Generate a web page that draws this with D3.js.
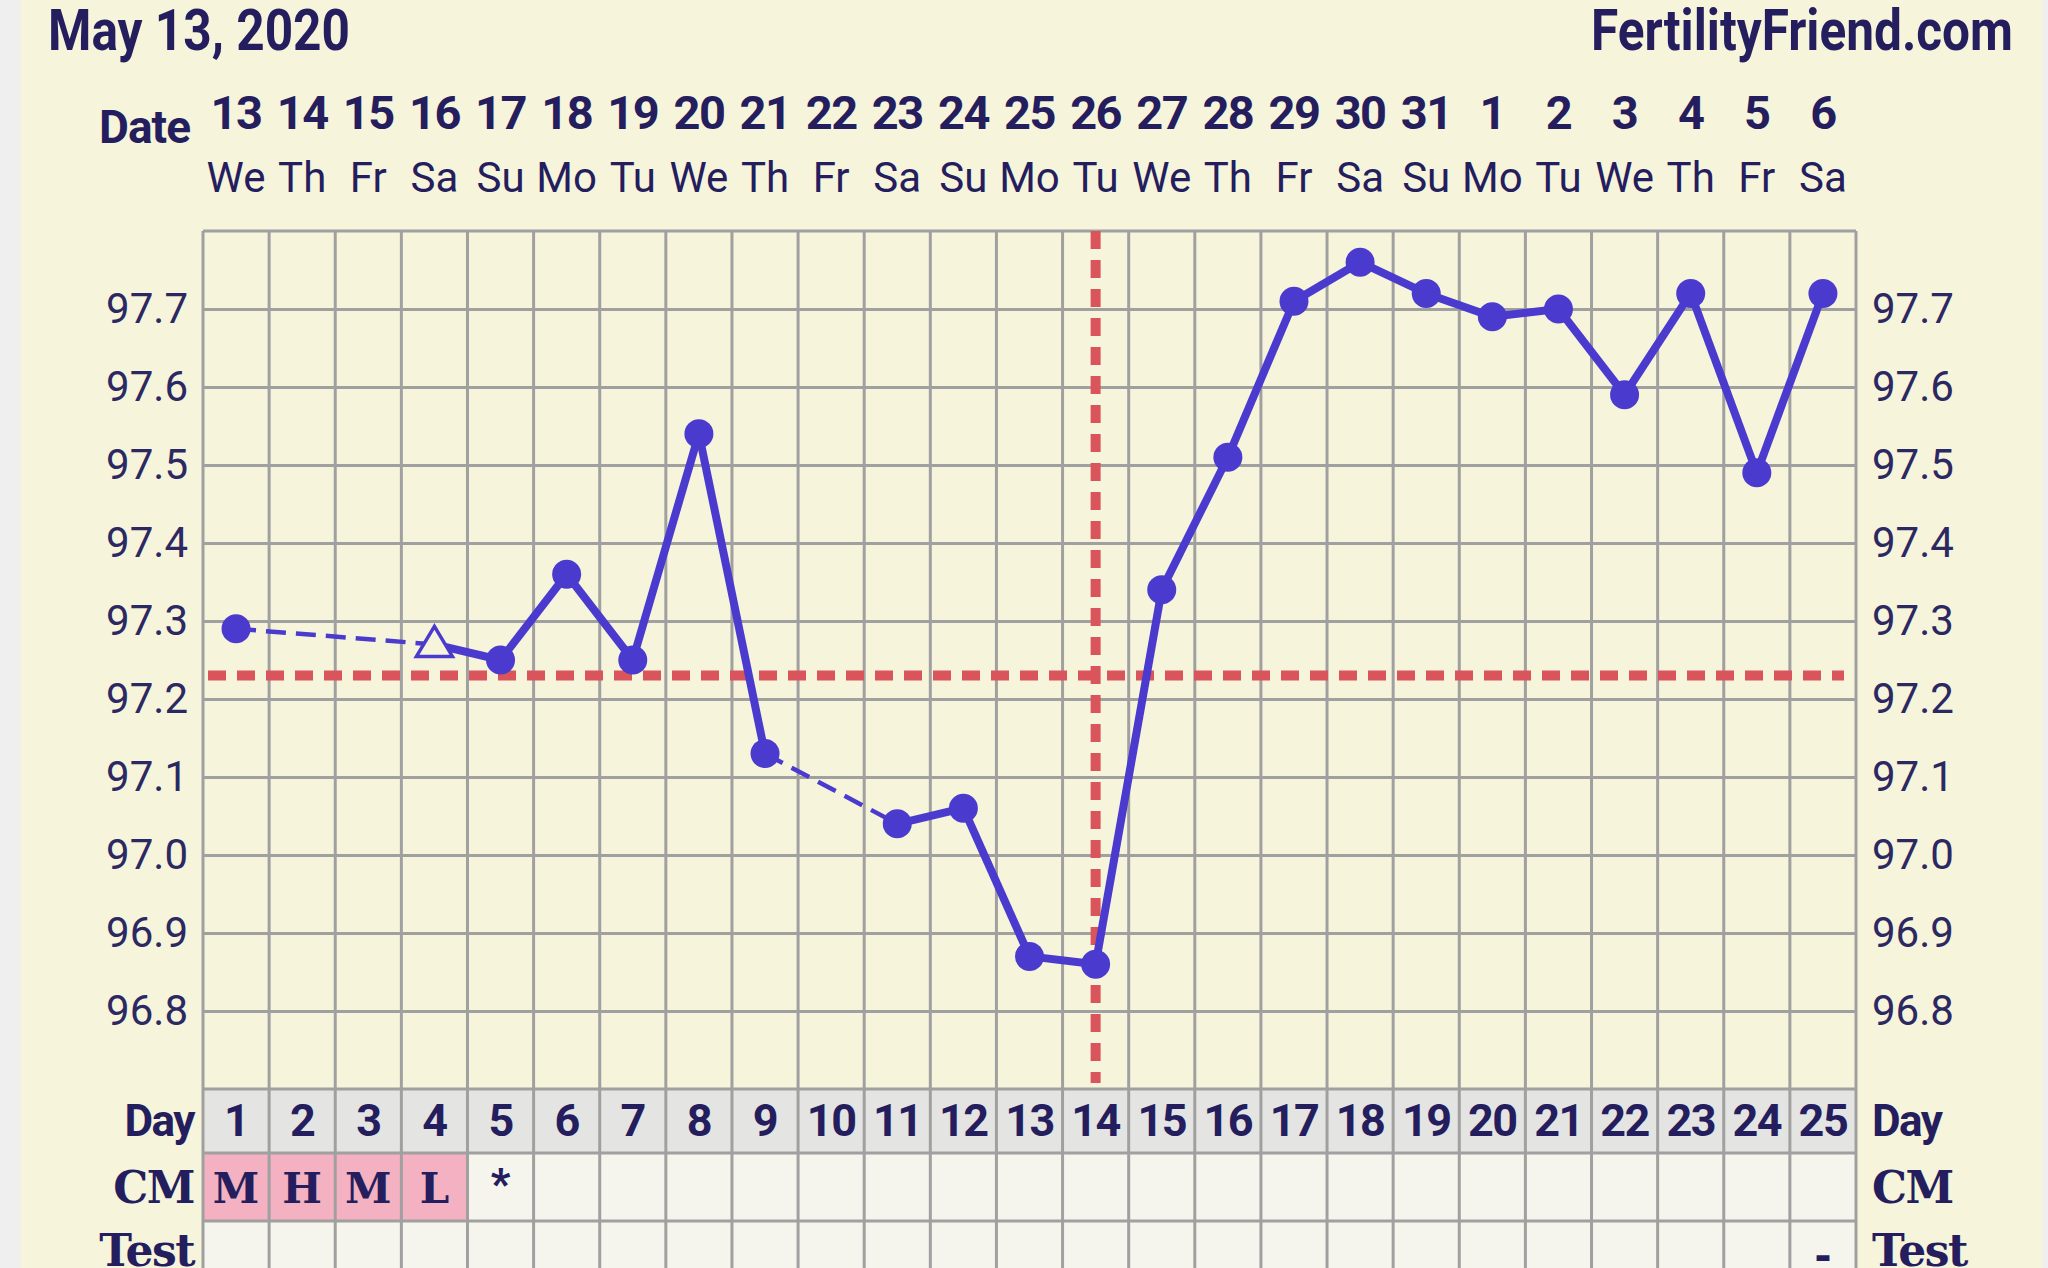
<!DOCTYPE html>
<html>
<head>
<meta charset="utf-8">
<script src="https://cdn.jsdelivr.net/npm/d3@7"></script>
<style>
  html, body { margin: 0; padding: 0; background: #efefef; }
  svg { display: block; }
</style>
</head>
<body>
<script>
// chart data
var titleText = 'May 13, 2020';
var siteText = 'FertilityFriend.com';
var dates = ['13', '14', '15', '16', '17', '18', '19', '20', '21', '22', '23', '24', '25',
  '26', '27', '28', '29', '30', '31', '1', '2', '3', '4', '5', '6'];
var weekdays = ['We', 'Th', 'Fr', 'Sa', 'Su', 'Mo', 'Tu', 'We', 'Th', 'Fr', 'Sa', 'Su', 'Mo',
  'Tu', 'We', 'Th', 'Fr', 'Sa', 'Su', 'Mo', 'Tu', 'We', 'Th', 'Fr', 'Sa'];
var cycleDays = [1, 2, 3, 4, 5, 6, 7, 8, 9, 10, 11, 12, 13, 14, 15, 16, 17, 18, 19, 20, 21, 22, 23, 24, 25];
var temps = [97.29, null, null, 97.27, 97.25, 97.36, 97.25, 97.54, 97.13, null, 97.04, 97.06, 96.87,
  96.86, 97.34, 97.51, 97.71, 97.76, 97.72, 97.69, 97.70, 97.59, 97.72, 97.49, 97.72];
var openDays = [4];           // temps drawn as open triangle
var cmValues = ['M', 'H', 'M', 'L', '*', '', '', '', '', '', '', '', '', '', '', '', '', '', '', '', '', '', '', '', ''];
var testValues = ['', '', '', '', '', '', '', '', '', '', '', '', '', '', '', '', '', '', '', '', '', '', '', '', '-'];
var tempTicks = [96.8, 96.9, 97.0, 97.1, 97.2, 97.3, 97.4, 97.5, 97.6, 97.7];
var tempRange = [96.7, 97.8];
var coverline = 97.23;
var ovulationDay = 14;

var width = 2048;
var height = 1268;
var plotLeft = 203, plotRight = 1856, plotTop = 231, plotBottom = 1089;
var dayRowBottom = 1153, cmRowBottom = 1221;

var ink = '#251e5e';
var grid = '#a0a0a0';
var blue = '#4a3bce';
var red = '#da545c';
var cream = '#f7f4dc';

var svg = d3.select('body').append('svg')
  .attr('width', width)
  .attr('height', height);

svg.append('rect').attr('x', 21).attr('y', 0).attr('width', 2021).attr('height', height).attr('fill', cream);

var x = d3.scaleBand().domain(cycleDays).range([plotLeft, plotRight]);
var y = d3.scaleLinear().domain(tempRange).range([plotBottom, plotTop]);

// bottom rows backgrounds
svg.selectAll('rect.dayrow').data(cycleDays).enter().append('rect')
  .attr('x', function(d) { return x(d); })
  .attr('y', plotBottom)
  .attr('width', x.bandwidth())
  .attr('height', dayRowBottom - plotBottom)
  .attr('fill', '#e4e4e2');

svg.selectAll('rect.cm').data(cycleDays).enter().append('rect')
  .attr('x', function(d) { return x(d); })
  .attr('y', dayRowBottom)
  .attr('width', x.bandwidth())
  .attr('height', cmRowBottom - dayRowBottom)
  .attr('fill', function(d, i) {
    return /[A-Z]/.test(cmValues[i]) ? '#f3b1c1' : '#f5f5ed';
  });

svg.append('rect')
  .attr('x', plotLeft).attr('y', cmRowBottom)
  .attr('width', plotRight - plotLeft).attr('height', height - cmRowBottom)
  .attr('fill', '#f5f5ed');

// horizontal grid + left labels
var leftAxis = svg.append('g')
  .attr('transform', 'translate(' + plotLeft + ',0)')
  .call(d3.axisLeft(y).tickValues(tempTicks).tickSize(-(plotRight - plotLeft)).tickPadding(15)
    .tickFormat(d3.format('.1f')));
leftAxis.select('.domain').remove();
leftAxis.selectAll('line').attr('stroke', grid).attr('stroke-width', 3);
leftAxis.selectAll('text').attr('fill', '#2b2862')
  .style('font-family', 'Roboto, sans-serif').style('font-size', '42px');

var rightAxis = svg.append('g')
  .attr('transform', 'translate(' + plotRight + ',0)')
  .call(d3.axisRight(y).tickValues(tempTicks).tickSize(0).tickPadding(16)
    .tickFormat(d3.format('.1f')));
rightAxis.select('.domain').remove();
rightAxis.selectAll('text').attr('fill', '#2b2862')
  .style('font-family', 'Roboto, sans-serif').style('font-size', '42px');

// vertical grid lines through plot and rows
var edges = cycleDays.map(function(d) { return x(d); }).concat([plotRight]);
svg.selectAll('line.vgrid').data(edges).enter().append('line')
  .attr('x1', function(d) { return d; })
  .attr('x2', function(d) { return d; })
  .attr('y1', plotTop)
  .attr('y2', height)
  .attr('stroke', grid)
  .attr('stroke-width', 3);

svg.selectAll('line.hrow').data([plotTop, plotBottom, dayRowBottom, cmRowBottom]).enter().append('line')
  .attr('x1', plotLeft)
  .attr('x2', plotRight)
  .attr('y1', function(d) { return d; })
  .attr('y2', function(d) { return d; })
  .attr('stroke', grid)
  .attr('stroke-width', 3);

// coverline and ovulation line
svg.append('line')
  .attr('x1', plotLeft + 5).attr('x2', plotRight - 12)
  .attr('y1', y(coverline)).attr('y2', y(coverline))
  .attr('stroke', red).attr('stroke-width', 10)
  .attr('stroke-dasharray', '18 11');

var ovX = x(ovulationDay) + x.bandwidth() / 2;
svg.append('line')
  .attr('x1', ovX).attr('x2', ovX)
  .attr('y1', plotTop).attr('y2', plotBottom - 6)
  .attr('stroke', red).attr('stroke-width', 10)
  .attr('stroke-dasharray', '18 11');

// temperature line, dashed across missing days
var points = [];
cycleDays.forEach(function(d, i) {
  if (temps[i] != null) points.push({ day: d, t: temps[i] });
});
var cx = function(p) { return x(p.day) + x.bandwidth() / 2; };
var line = d3.line().x(cx).y(function(p) { return y(p.t); });

var segs = d3.pairs(points);
svg.selectAll('path.seg').data(segs).enter().append('path')
  .attr('d', function(s) { return line(s); })
  .attr('fill', 'none')
  .attr('stroke', blue)
  .attr('stroke-width', function(s) { return s[1].day - s[0].day > 1 ? 4.5 : 8; })
  .attr('stroke-dasharray', function(s) { return s[1].day - s[0].day > 1 ? '20 10' : null; });

svg.selectAll('circle.pt').data(points.filter(function(p) { return openDays.indexOf(p.day) < 0; }))
  .enter().append('circle')
  .attr('cx', cx)
  .attr('cy', function(p) { return y(p.t); })
  .attr('r', 14.5)
  .attr('fill', blue);

svg.selectAll('path.tri').data(points.filter(function(p) { return openDays.indexOf(p.day) >= 0; }))
  .enter().append('path')
  .attr('d', function(p) {
    var px = cx(p), py = y(p.t);
    return 'M' + px + ',' + (py - 18) + 'L' + (px + 18) + ',' + (py + 12) + 'L' + (px - 18) + ',' + (py + 12) + 'Z';
  })
  .attr('fill', cream)
  .attr('stroke', blue)
  .attr('stroke-width', 3.5);

// header: title, site, dates, weekdays
svg.append('text').text(titleText)
  .attr('x', 48).attr('y', 50)
  .attr('textLength', 302).attr('lengthAdjust', 'spacingAndGlyphs')
  .attr('fill', ink)
  .style('font-family', 'Roboto, sans-serif').style('font-weight', 700).style('font-size', '58px');

svg.append('text').text(siteText)
  .attr('x', 1591).attr('y', 50)
  .attr('textLength', 422).attr('lengthAdjust', 'spacingAndGlyphs')
  .attr('fill', ink)
  .style('font-family', 'Roboto, sans-serif').style('font-weight', 700).style('font-size', '58px');

svg.append('text').text('Date')
  .attr('x', 190).attr('y', 143).attr('text-anchor', 'end')
  .attr('fill', ink)
  .style('font-family', 'Roboto, sans-serif').style('font-weight', 700).style('font-size', '46px')
  .style('letter-spacing', '-1px');

var dateAxis = svg.append('g')
  .attr('transform', 'translate(0,129)')
  .call(d3.axisTop(x).tickSize(0).tickPadding(0).tickFormat(function(d, i) { return dates[i]; }));
dateAxis.select('.domain').remove();
dateAxis.selectAll('text').attr('fill', ink)
  .style('font-family', 'Roboto, sans-serif').style('font-weight', 700).style('font-size', '47px')
  .style('letter-spacing', '-1.5px');

var weekAxis = svg.append('g')
  .attr('transform', 'translate(0,192)')
  .call(d3.axisTop(x).tickSize(0).tickPadding(0).tickFormat(function(d, i) { return weekdays[i]; }));
weekAxis.select('.domain').remove();
weekAxis.selectAll('text').attr('fill', ink)
  .style('font-family', 'Roboto, sans-serif').style('font-size', '42px');

// bottom rows text
var bandMid = function(d) { return x(d) + x.bandwidth() / 2; };

svg.selectAll('text.day').data(cycleDays).enter().append('text')
  .text(function(d) { return d; })
  .attr('x', bandMid).attr('y', 1136)
  .attr('text-anchor', 'middle')
  .attr('fill', ink)
  .style('font-family', 'Roboto, sans-serif').style('font-weight', 700).style('font-size', '45px')
  .style('letter-spacing', '-1.5px');

svg.selectAll('text.cm').data(cycleDays).enter().append('text')
  .text(function(d, i) { return cmValues[i]; })
  .attr('x', bandMid).attr('y', function(d, i) { return cmValues[i] === '*' ? 1198 : 1203; })
  .attr('text-anchor', 'middle')
  .attr('fill', ink)
  .style('font-family', function(d, i) { return cmValues[i] === '*' ? 'Roboto, sans-serif' : '"DejaVu Serif", serif'; })
  .style('font-weight', 900).style('font-size', '42px');

svg.selectAll('text.test').data(cycleDays).enter().append('text')
  .text(function(d, i) { return testValues[i]; })
  .attr('x', bandMid).attr('y', 1270)
  .attr('text-anchor', 'middle')
  .attr('fill', ink)
  .style('font-family', '"DejaVu Serif", serif').style('font-weight', 700).style('font-size', '42px');

var rowLabels = [['Day', 1136, 'Roboto, sans-serif'], ['CM', 1203, '"DejaVu Serif", serif'], ['Test', 1266, '"DejaVu Serif", serif']];
rowLabels.forEach(function(r) {
  svg.append('text').text(r[0])
    .attr('x', 194).attr('y', r[1]).attr('text-anchor', 'end')
    .attr('fill', ink)
    .style('font-family', r[2]).style('font-weight', 700).style('font-size', '44px')
    .style('letter-spacing', '-1.5px');
  svg.append('text').text(r[0])
    .attr('x', 1872).attr('y', r[1])
    .attr('fill', ink)
    .style('font-family', r[2]).style('font-weight', 700).style('font-size', '44px')
    .style('letter-spacing', '-1.5px');
});
</script>
</body>
</html>
